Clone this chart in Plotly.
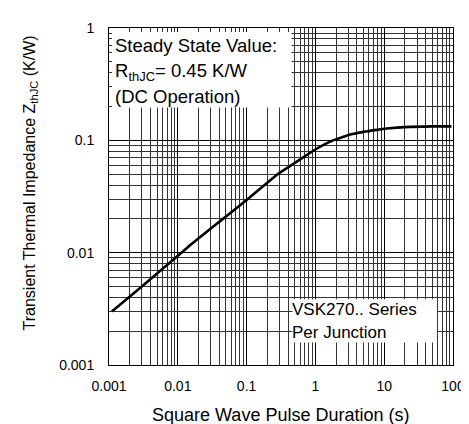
import plotly.graph_objects as go

# Data
pulse_s = [0.0011, 0.003, 0.0085, 0.014, 0.04, 0.1, 0.28, 0.5, 0.97, 1.4, 1.88, 2.5, 3.2, 5, 7.9, 12, 20, 50, 95]
zthjc = [0.0030, 0.0050, 0.0086, 0.0112, 0.0188, 0.0294, 0.0497, 0.0628, 0.082, 0.093, 0.101, 0.107, 0.1125, 0.119, 0.124, 0.128, 0.131, 0.133, 0.133]

x_tickvals = [0.001, 0.01, 0.1, 1, 10, 100]
x_ticktext = ["0.001", "0.01", "0.1", "1", "10", "100"]
y_tickvals = [0.001, 0.01, 0.1, 1]
y_ticktext = ["0.001", "0.01", "0.1", "1"]

W, H = 469, 424
L, R, T, B = 101, 23, 14, 67
PW, PH = W - L - R, H - T - B

def px(xp):
    return (xp - L) / PW

def py(yp):
    return (H - B - yp) / PH

FONT = "Liberation Sans, Arial, sans-serif"

fig = go.Figure()
fig.add_trace(go.Scatter(
    x=pulse_s, y=zthjc, mode="lines",
    line=dict(color="black", width=2.6, shape="spline", smoothing=0.6),
    hoverinfo="skip", showlegend=False,
))

axis_common = dict(
    type="log",
    showline=True, linecolor="black", linewidth=1, mirror=True,
    showgrid=True, gridcolor="black", gridwidth=1,
    ticks="", zeroline=False,
    tickfont=dict(family=FONT, size=14, color="black"),
    minor=dict(showgrid=True, gridcolor="#333333", gridwidth=1, dtick="D1"),
)

fig.update_xaxes(range=[-3, 2], tickvals=x_tickvals, ticktext=x_ticktext,
                 ticklabelstandoff=8, **axis_common)
fig.update_yaxes(range=[-3, 0], tickvals=y_tickvals, ticktext=y_ticktext,
                 ticklabelstandoff=11, **axis_common)

# White text boxes covering the grid
fig.add_shape(type="rect", xref="paper", yref="paper",
              x0=px(104), x1=px(284), y0=py(95), y1=py(18),
              fillcolor="white", line=dict(width=0), layer="above")
fig.add_shape(type="rect", xref="paper", yref="paper",
              x0=px(285), x1=px(430), y0=py(334), y1=py(290),
              fillcolor="white", line=dict(width=0), layer="above")

def add_text(text, xp, yp, size):
    fig.add_annotation(text=text, xref="paper", yref="paper",
                       x=px(xp), y=py(yp), xanchor="left", yanchor="middle",
                       showarrow=False, borderpad=0,
                       font=dict(family=FONT, size=size, color="black"))

add_text("Steady State Value:", 106, 32, 18.5)
add_text("R<sub>thJC</sub>= 0.45 K/W", 106, 59, 18.5)
add_text("(DC Operation)", 106, 84, 18.5)
add_text("VSK270.. Series", 284, 301, 17)
add_text("Per Junction", 284, 324, 17)

# Axis titles
fig.add_annotation(text="Transient Thermal Impedance Z<sub>thJC</sub> (K/W)",
                   xref="paper", yref="paper", x=px(22), y=py(172),
                   xanchor="center", yanchor="middle", textangle=-90,
                   showarrow=False, font=dict(family=FONT, size=16, color="black"))
fig.add_annotation(text="Square Wave Pulse Duration (s)",
                   xref="paper", yref="paper", x=px(273), y=py(408),
                   xanchor="center", yanchor="middle",
                   showarrow=False, font=dict(family=FONT, size=18, color="black"))

fig.update_layout(
    width=W, height=H,
    margin=dict(l=L, r=R, t=T, b=B),
    paper_bgcolor="white", plot_bgcolor="white",
    showlegend=False,
)

fig.write_html("out.html")
